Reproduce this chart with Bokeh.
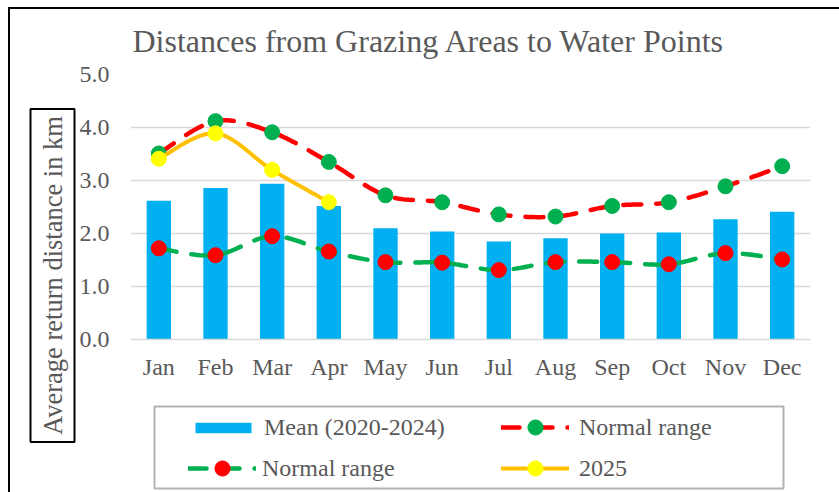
import math
from bokeh.plotting import figure
from bokeh.layouts import row, column
from bokeh.models import (FactorRange, Range1d, FixedTicker, Legend, LegendItem,
                          Label, NumeralTickFormatter, BoxAnnotation)
from bokeh.embed import file_html
from bokeh.resources import INLINE

# ---------------- data ----------------
months = ["Jan", "Feb", "Mar", "Apr", "May", "Jun",
          "Jul", "Aug", "Sep", "Oct", "Nov", "Dec"]
mean_2020_2024 = [2.62, 2.86, 2.94, 2.52, 2.10, 2.04, 1.85, 1.91, 2.00, 2.02, 2.27, 2.41]
normal_upper = [3.51, 4.12, 3.91, 3.35, 2.72, 2.59, 2.36, 2.32, 2.52, 2.59, 2.89, 3.27]
normal_lower = [1.72, 1.59, 1.95, 1.66, 1.46, 1.45, 1.31, 1.46, 1.46, 1.42, 1.63, 1.51]
months_2025 = ["Jan", "Feb", "Mar", "Apr"]
values_2025 = [3.41, 3.89, 3.20, 2.59]
y_ticks = [0, 1, 2, 3, 4, 5]

title_text = "Distances from Grazing Areas to Water Points"
y_label_text = "Average return distance in km"
legend_labels = ["Mean (2020-2024)", "Normal range", "Normal range", "2025"]

FONT = "Liberation Serif"
GREY = "#595959"
BLUE = "#00B0F0"
RED = "#FF0000"
GREEN = "#00B050"
ORANGE = "#FFC000"
YELLOW = "#FFFF00"

H = 483
LEFT_W = 66
MAIN_W = 763
MAIN_H = 376
LEG_H = H - MAIN_H


def smooth(cats, ys, steps=24):
    """Excel-like smoothed line (Bezier through the points), in the
    categorical range's synthetic coordinates."""
    xs = [months.index(c) + 0.5 for c in cats]
    n = len(xs)
    px, py = [], []
    for i in range(n - 1):
        x0, y0 = xs[max(i - 1, 0)], ys[max(i - 1, 0)]
        x1, y1 = xs[i], ys[i]
        x2, y2 = xs[i + 1], ys[i + 1]
        x3, y3 = xs[min(i + 2, n - 1)], ys[min(i + 2, n - 1)]
        c1x, c1y = x1 + (x2 - x0) / 6, y1 + (y2 - y0) / 6
        c2x, c2y = x2 - (x3 - x1) / 6, y2 - (y3 - y1) / 6
        last = 1 if i == n - 2 else 0
        for k in range(steps + last):
            t = k / steps
            a, b, c, d = (1 - t) ** 3, 3 * t * (1 - t) ** 2, 3 * t * t * (1 - t), t ** 3
            px.append(a * x1 + b * c1x + c * c2x + d * x2)
            py.append(a * y1 + b * c1y + c * c2y + d * y2)
    return px, py


def blank(width, height, x_range, y_range):
    f = figure(width=width, height=height, x_range=x_range, y_range=y_range,
               output_backend="svg", toolbar_location=None,
               x_axis_location=None, y_axis_location=None, min_border=0)
    f.grid.visible = False
    f.outline_line_color = None
    f.background_fill_color = "white"
    f.border_fill_color = "white"
    return f


# ---------- narrow figure holding the boxed y-axis title ----------
lab = blank(LEFT_W, H, Range1d(0, 1), Range1d(0, 1))
ylab = Label(text=y_label_text, x=42, y=217, x_units="screen", y_units="screen",
             angle=math.pi / 2, text_align="center", text_baseline="middle",
             text_font=FONT, text_font_size="26.5px", text_color=GREY,
             border_line_color="black", border_line_width=2,
             background_fill_color="white", padding=7)
lab.add_layout(ylab)

# ---------------- main chart ----------------
p = figure(width=MAIN_W, height=MAIN_H,
           x_range=FactorRange(*months), y_range=Range1d(0, 5),
           output_backend="svg", toolbar_location=None,
           min_border_left=51, min_border_right=29,
           min_border_top=65, min_border_bottom=46)
p.background_fill_color = "white"
p.border_fill_color = "white"
p.outline_line_color = None

p.title.text = title_text
p.title.text_font = FONT
p.title.text_font_size = "32px"
p.title.text_font_style = "normal"
p.title.text_color = GREY
p.title.align = "left"
p.title.vertical_align = "top"
p.title.offset = 2
p.title.standoff = 27

p.xgrid.grid_line_color = None
p.ygrid.grid_line_color = "#D9D9D9"
p.ygrid.grid_line_width = 1.5
p.yaxis.ticker = FixedTicker(ticks=y_ticks)
p.yaxis.formatter = NumeralTickFormatter(format="0.0")
for ax in (p.xaxis[0], p.yaxis[0]):
    ax.major_tick_line_color = None
    ax.minor_tick_line_color = None
    ax.major_label_text_font = FONT
    ax.major_label_text_font_size = "24px"
    ax.major_label_text_color = GREY
p.yaxis.axis_line_color = None
p.yaxis.major_label_standoff = 15
p.xaxis.axis_line_color = "#D9D9D9"
p.xaxis.axis_line_width = 1.5
p.xaxis.major_label_standoff = 8

bar_style = dict(fill_color=BLUE, line_color=None)
low_line_style = dict(line_color=GREEN, line_width=4.5, line_dash="18 15", line_cap="round")
low_pt_style = dict(size=15, fill_color=RED, line_color=RED)
up_line_style = dict(line_color=RED, line_width=4.5, line_dash="18 15", line_cap="round")
up_pt_style = dict(size=15, fill_color=GREEN, line_color=GREEN)
y25_line_style = dict(line_color=ORANGE, line_width=4, line_cap="round")
y25_pt_style = dict(size=15, fill_color=YELLOW, line_color=YELLOW)

lx, ly = smooth(months, normal_lower)
ux, uy = smooth(months, normal_upper)
sx, sy = smooth(months_2025, values_2025)


def draw_series(fig):
    r_bar = fig.vbar(x=months, top=mean_2020_2024, width=0.43, **bar_style)
    r_ll = fig.line(lx, ly, **low_line_style)
    r_lp = fig.scatter(months, normal_lower, **low_pt_style)
    r_ul = fig.line(ux, uy, **up_line_style)
    r_up = fig.scatter(months, normal_upper, **up_pt_style)
    r_yl = fig.line(sx, sy, **y25_line_style)
    r_yp = fig.scatter(months_2025, values_2025, **y25_pt_style)
    return r_bar, r_ll, r_lp, r_ul, r_up, r_yl, r_yp


draw_series(p)

# ---------------- legend strip ----------------
# the same series are drawn again on a strip whose y-range lies above every
# value (so they fall outside it); only their legend entries show there
leg = blank(MAIN_W, LEG_H, FactorRange(*months), Range1d(10, 11))
r_bar, r_ll, r_lp, r_ul, r_up, r_yl, r_yp = draw_series(leg)

frame_box = BoxAnnotation(left=24, right=653, top=86, bottom=4,
                          left_units="screen", right_units="screen",
                          top_units="screen", bottom_units="screen",
                          fill_alpha=0, line_color="black", line_width=2)
leg.add_layout(frame_box)


def make_legend(items, loc, glyph_h, standoff):
    lg = Legend(items=items, location=loc)
    lg.margin = 0
    lg.padding = 0
    lg.spacing = 3
    lg.label_text_font = FONT
    lg.label_text_font_size = "24px"
    lg.label_text_color = GREY
    lg.glyph_width = 70 if glyph_h < 20 else 68
    lg.glyph_height = glyph_h
    lg.label_height = 28
    lg.label_standoff = standoff
    lg.border_line_color = None
    lg.background_fill_alpha = 0
    return lg


leg.add_layout(make_legend([LegendItem(label=legend_labels[0], renderers=[r_bar])],
                           (58, 51), 13, 6))
leg.add_layout(make_legend([LegendItem(label=legend_labels[2], renderers=[r_ll, r_lp])],
                           (58, 5), 38, 6))
leg.add_layout(make_legend([LegendItem(label=legend_labels[1], renderers=[r_ul, r_up]),
                            LegendItem(label=legend_labels[3], renderers=[r_yl, r_yp])],
                           (371, 5), 38, 10))

layout = row(lab, column(p, leg, spacing=0), spacing=0)
layout.styles = {"margin-left": "8px", "margin-top": "7px",
                 "border-top": "2px solid black", "border-left": "2px solid black"}

open("out.html", "w").write(file_html(layout, INLINE))
